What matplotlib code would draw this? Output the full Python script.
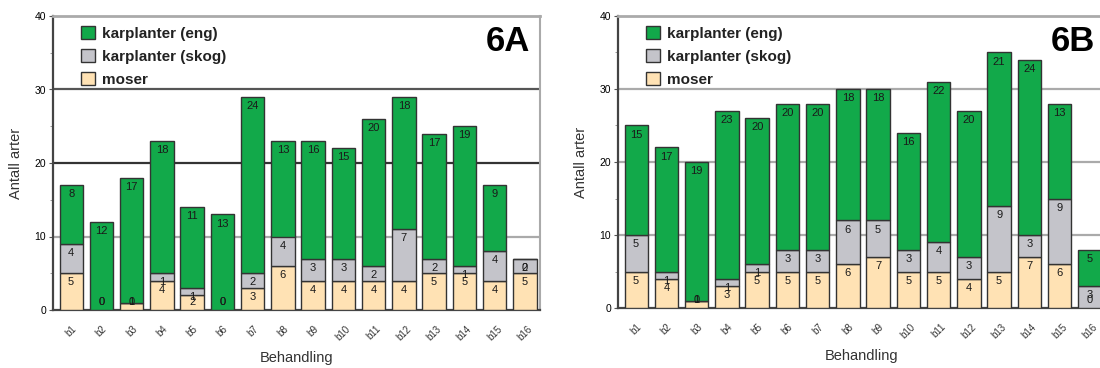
import matplotlib
matplotlib.use("Agg")
import matplotlib.pyplot as plt
from matplotlib.patches import Patch
import numpy as np

plt.rcParams['font.family'] = ['Liberation Sans', 'DejaVu Sans']

behandling = ['b' + str(i) for i in range(1, 17)]
serier = ['moser', 'karplanter (skog)', 'karplanter (eng)']

# 6A
moser_a = [5, 0, 1, 4, 2, 0, 3, 6, 4, 4, 4, 4, 5, 5, 4, 5]
skog_a = [4, 0, 0, 1, 1, 0, 2, 4, 3, 3, 2, 7, 2, 1, 4, 2]
eng_a = [8, 12, 17, 18, 11, 13, 24, 13, 16, 15, 20, 18, 17, 19, 9, 0]

# 6B
moser_b = [5, 4, 1, 3, 5, 5, 5, 6, 7, 5, 5, 4, 5, 7, 6, 0]
skog_b = [5, 1, 0, 1, 1, 3, 3, 6, 5, 3, 4, 3, 9, 3, 9, 3]
eng_b = [15, 17, 19, 23, 20, 20, 20, 18, 18, 16, 22, 20, 21, 24, 13, 5]

farger = {'moser': '#ffe2b4', 'karplanter (skog)': '#c4c4ca', 'karplanter (eng)': '#12a94a'}

fig = plt.figure(figsize=(11, 3.68), dpi=100)


def tegn(ax, data, tittel, gridfarger):
    x = np.arange(len(behandling))
    bunn = np.zeros(len(behandling))
    for navn, verdier in zip(serier, data):
        v = np.array(verdier, dtype=float)
        ax.bar(x, v, bottom=bunn, width=0.77, color=farger[navn],
               edgecolor='#333333', linewidth=1.0, zorder=3)
        topp = bunn + v
        for xi, t, vi in zip(x, topp, v):
            y = max(t - 1.25, 1.1)
            ax.text(xi, y, str(int(vi)), ha='center', va='center',
                    fontsize=8, color='#1a1a1a', zorder=4)
        bunn = topp

    ax.set_xlim(-0.6, 15.5)
    ax.set_ylim(0, 40)
    ax.set_yticks([0, 10, 20, 30, 40])
    ax.set_yticks([5, 15, 25, 35], minor=True)
    ax.tick_params(axis='y', labelsize=7.5, length=3, color='#555555', pad=2)
    ax.tick_params(axis='y', which='minor', length=2, color='#888888')
    ax.set_xticks(x)
    ax.set_xticklabels(behandling, rotation=45, fontsize=7, color='#333333')
    ax.tick_params(axis='x', length=0, pad=10)

    for yv, c in zip([10, 20, 30], gridfarger):
        ax.axhline(yv, color=c, linewidth=1.6, zorder=1)
    ax.spines['top'].set_color('#aaaaaa')
    ax.spines['top'].set_linewidth(2)
    ax.spines['right'].set_color('#aaaaaa')
    ax.spines['right'].set_linewidth(1.5)
    ax.spines['left'].set_color('#444444')
    ax.spines['left'].set_linewidth(1.6)
    ax.spines['bottom'].set_color('#444444')
    ax.spines['bottom'].set_linewidth(1.6)

    ax.set_ylabel('Antall arter', fontsize=10.5, color='#333333', labelpad=8)
    ax.set_xlabel('Behandling', fontsize=10.5, color='#333333', labelpad=6)

    handles = [Patch(facecolor=farger[n], edgecolor='#333333', label=n)
               for n in reversed(serier)]
    leg = ax.legend(handles=handles, loc='upper left', bbox_to_anchor=(0.057, 0.965),
                    frameon=False, fontsize=11, handlelength=0.9, handleheight=0.9,
                    handletextpad=0.5, labelspacing=0.55, borderaxespad=0, borderpad=0)
    for t in leg.get_texts():
        t.set_fontweight('bold')
        t.set_color('#222222')

    ax.text(1 - 10 / 487, 0.97, tittel, transform=ax.transAxes, ha='right', va='top',
            fontsize=25, fontweight='bold', color='black')


ax1 = fig.add_axes([53 / 1100, 58 / 368, 487 / 1100, 294 / 368])
tegn(ax1, [moser_a, skog_a, eng_a], '6A', ['#aaaaaa', '#333333', '#555555'])

ax2 = fig.add_axes([618 / 1100, 60 / 368, 487 / 1100, 292 / 368])
tegn(ax2, [moser_b, skog_b, eng_b], '6B', ['#aaaaaa', '#aaaaaa', '#aaaaaa'])

fig.savefig('out.png', dpi=100)
